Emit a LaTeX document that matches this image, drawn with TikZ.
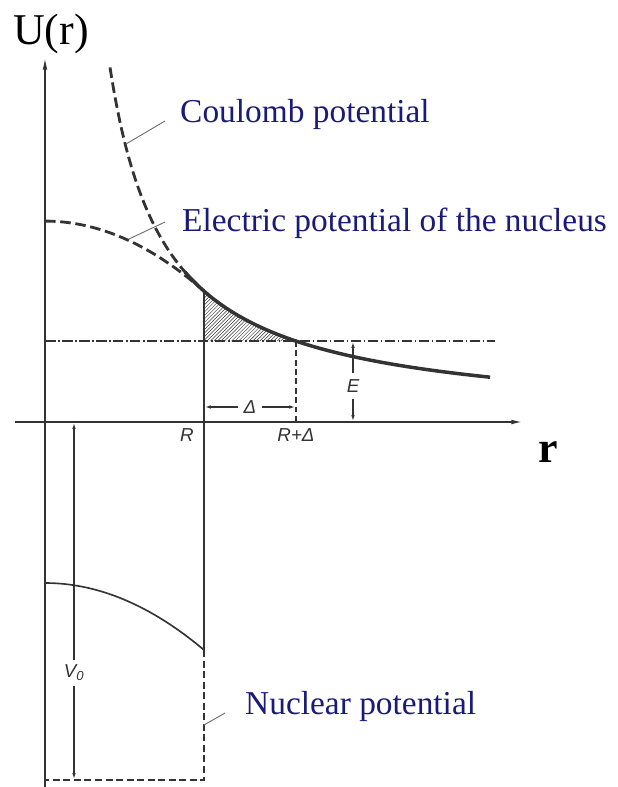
\documentclass[tikz,border=0pt]{standalone}
\usepackage{fontspec}
\setmainfont{Liberation Serif}
\newfontfamily\lblfont{Liberation Sans}
\usetikzlibrary{arrows.meta,patterns}
\definecolor{inkcol}{HTML}{333333}
\definecolor{capcol}{HTML}{1A1A78}

\begin{document}
\begin{tikzpicture}[x=0.03cm,y=-0.03cm,>={Latex[length=5pt,width=3pt]},
  axis/.style={draw=inkcol,line width=1.1pt},
  solidcurve/.style={draw=inkcol,line width=3pt},
  dashcurve/.style={draw=inkcol,line width=2.4pt,dash pattern=on 9pt off 4pt},
  aux/.style={draw=inkcol,line width=0.9pt},
  leader/.style={draw=inkcol!70,line width=0.8pt},
  lbl/.style={font=\lblfont\itshape\fontsize{16}{16}\selectfont,text=inkcol,inner sep=2pt},
  caption/.style={font=\fontsize{28.5}{30}\selectfont,text=capcol,inner sep=0pt,anchor=base west}]
\useasboundingbox (0,0) rectangle (617,787);
% axes
\coordinate (yB) at (45,787); \coordinate (yT) at (45,58);
\coordinate (xL) at (15,422); \coordinate (xR) at (522,422);
\draw[axis,-{Latex[length=10pt,width=4pt]}] (yB) -- (yT);
\draw[axis,-{Latex[length=9pt,width=4pt]}] (xL) -- (xR);
\node[font=\fontsize{37.5}{40}\selectfont,inner sep=0pt,anchor=base west] (ulab) at (13,45) {U(r)};
\node[font=\fontsize{37.5}{40}\selectfont\bfseries,inner sep=0pt,anchor=base] (rlab) at (548,462) {r};
% energy level
\draw[inkcol,line width=0.9pt,dash pattern=on 9pt off 2pt on 1.5pt off 2pt] (45,341) -- (495,341);
\fill[pattern=north east lines,pattern color=inkcol]
  (204,341) -- plot[domain=204:296,samples=30] (\x,{422-195/((\x-55)/100)}) -- cycle;
% potentials
\draw[dashcurve] plot[domain=110:204,samples=50] (\x,{422-195/((\x-55)/100)});
\draw[dashcurve] plot[domain=45:200,samples=40] (\x,{422-130.9-70*(1-((\x-45)/159)^2)});
\draw[solidcurve] plot[domain=185:490,samples=80] (\x,{422-195/((\x-55)/100)});
\draw[aux,line width=1.2pt] (204,291) -- (204,650);
\draw[aux,line width=1.4pt] plot[domain=45:204,samples=40] (\x,{583+67*((\x-45)/159)^2});
\draw[aux,dash pattern=on 6pt off 3pt] (204,650) -- (204,780) -- (45,780);
\draw[aux,dash pattern=on 5pt off 3pt] (296,341) -- (296,422);
% dimension labels
\node[lbl] (Rlab) at (187,435) {R};
\node[lbl] (RDlab) at (296,435) {R+Δ};
\node[lbl,inner sep=5pt] (Dlab) at (250,407) {Δ};
\node[lbl,inner sep=5pt] (Elab) at (353,386) {E};
\node[lbl,inner sep=4pt] (Vlab) at (74,673) {V\textsubscript{0}};
\coordinate (dL) at (205,407); \coordinate (dR) at (295,407);
\coordinate (eT) at (353,342); \coordinate (eB) at (353,421);
\coordinate (vT) at (74,423); \coordinate (vB) at (74,779);
\draw[aux,->] (Dlab.west) -- (dL); \draw[aux,->] (Dlab.east) -- (dR);
\draw[aux,->] (Elab.north) -- (eT); \draw[aux,->] (Elab.south) -- (eB);
\draw[aux,->] (Vlab.north) -- (vT); \draw[aux,->] (Vlab.south) -- (vB);
% captions
\node[caption] (coul) at (180,122) {Coulomb potential};
\node[caption] (elec) at (182,231) {Electric potential of the nucleus};
\node[caption] (nucl) at (245,714) {Nuclear potential};
\coordinate (cA) at (126,144); \coordinate (cB) at (165,121);
\coordinate (eA) at (129,239); \coordinate (eC) at (165,222);
\coordinate (nA) at (204,725); \coordinate (nB) at (225,713);
\draw[leader] (cA) -- (cB); \draw[leader] (eA) -- (eC); \draw[leader] (nA) -- (nB);
\end{tikzpicture}
\end{document}
